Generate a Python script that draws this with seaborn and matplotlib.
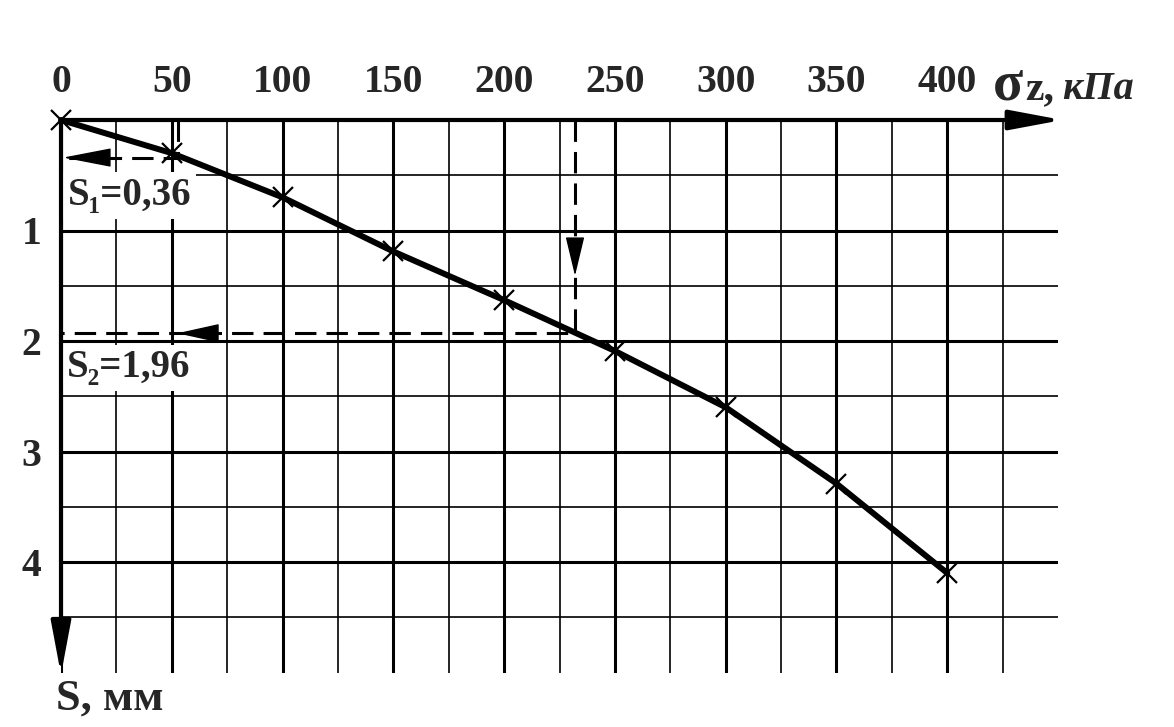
import matplotlib
matplotlib.use("Agg")
import numpy as np
import pandas as pd
import seaborn as sns
import matplotlib.pyplot as plt
from matplotlib.ticker import FixedLocator

# ---------------- data ----------------
sigma = [0, 50, 100, 150, 200, 250, 300, 350, 400]            # kPa
settlement = [0.0, 0.30, 0.70, 1.19, 1.63, 2.09, 2.60, 3.29, 4.10]  # mm

x_ticks = [0, 50, 100, 150, 200, 250, 300, 350, 400]
x_tick_labels = ["0", "50", "100", "150", "200", "250", "300", "350", "400"]
y_ticks = [1, 2, 3, 4]
y_tick_labels = ["1", "2", "3", "4"]

s1_sigma, s1_value = 53, 0.34
s2_sigma, s2_value = 232, 1.93
s1_label = "S₁=0,36"
s2_label = "S₂=1,96"

# ---------------- style ----------------
sns.set_style("white")
plt.rcParams["font.family"] = ["Liberation Serif", "DejaVu Serif"]
plt.rcParams["font.weight"] = "bold"

W, H = 1174, 727
fig = plt.figure(figsize=(W / 100, H / 100), dpi=100)
left_px, right_px, top_px, bottom_px = 61, 1058, 120, 672.5
ax = fig.add_axes([left_px / W, 1 - bottom_px / H,
                   (right_px - left_px) / W, (bottom_px - top_px) / H])
ax.set_xlim(0, 450)
ax.set_ylim(5.0, 0)

for s in ax.spines.values():
    s.set_visible(False)

ax.xaxis.tick_top()
ax.xaxis.set_major_locator(FixedLocator(x_ticks))
ax.xaxis.set_minor_locator(FixedLocator(list(np.arange(25, 450, 50))))
ax.set_xticklabels(x_tick_labels)
ax.yaxis.set_major_locator(FixedLocator(y_ticks))
ax.yaxis.set_minor_locator(FixedLocator(list(np.arange(0.5, 5.0, 1.0))))
ax.set_yticklabels(y_tick_labels)
ax.tick_params(which="both", length=0)
ax.tick_params(axis="x", pad=14, labelsize=28.5)
ax.tick_params(axis="y", pad=14, labelsize=28.5)
for lab in ax.get_xticklabels() + ax.get_yticklabels():
    lab.set_fontweight("bold")

ax.set_axisbelow(True)
ax.grid(which="major", color="black", lw=2.2)
ax.grid(which="minor", color="black", lw=1.2)

# main curve
df = pd.DataFrame({"sigma": sigma, "S": settlement})
sns.lineplot(data=df, x="sigma", y="S", ax=ax, color="black", lw=4.3,
             marker="x", markersize=14, markeredgewidth=1.6,
             markeredgecolor="black", clip_on=False, zorder=5)
ax.set_xlabel("")
ax.set_ylabel("")

# axes arrows
def arrow(xy_tail, xy_tip, hl, hw, lw):
    ax.annotate("", xy=xy_tip, xytext=xy_tail,
                arrowprops=dict(arrowstyle=f"-|>,head_length={hl},head_width={hw}",
                                mutation_scale=1, lw=lw, color="black",
                                shrinkA=0, shrinkB=0),
                annotation_clip=False, zorder=6)

arrow((0, 0), (452, 0), 32, 6, 3)
arrow((0, 0), (0, 5.02), 32, 6, 3)

# dashed guides
dash_kw = dict(color="black", lw=2.2, dashes=(7, 3.3), zorder=4, clip_on=False)
ax.plot([s1_sigma, s1_sigma, 0], [0, s1_value, s1_value], **dash_kw)
ax.plot([s2_sigma, s2_sigma, 0], [0, s2_value, s2_value], **dash_kw)

arrow((21, s1_value), (1, s1_value), 31, 6, 1)
arrow((70, s2_value), (52.5, s2_value), 27, 6, 1)
arrow((s2_sigma, 1.08), (s2_sigma, 1.41), 25, 6, 1)

# value labels
bbox = dict(boxstyle="square,pad=0.12", fc="white", ec="none")
ax.text(3.0, 0.77, s1_label, fontsize=28, fontweight="bold", ha="left",
        va="baseline", bbox=bbox, zorder=3)
ax.text(2.5, 2.33, s2_label, fontsize=28, fontweight="bold", ha="left",
        va="baseline", bbox=bbox, zorder=3)

# axis names (figure pixel coords, origin bottom-left)
ax.annotate("σ", xy=(993, H - 99), xycoords="figure pixels", fontsize=40,
            fontweight="bold", ha="left", va="baseline")
ax.annotate("z,", xy=(1025, H - 99), xycoords="figure pixels", fontsize=30,
            fontweight="bold", ha="left", va="baseline")
ax.annotate("кПа", xy=(1062, H - 99), xycoords="figure pixels", fontsize=29,
            fontweight="bold", fontstyle="italic", ha="left", va="baseline")
ax.annotate("S, мм", xy=(56, H - 710), xycoords="figure pixels", fontsize=32,
            fontweight="bold", ha="left", va="baseline")

fig.savefig("out.png", dpi=100)
